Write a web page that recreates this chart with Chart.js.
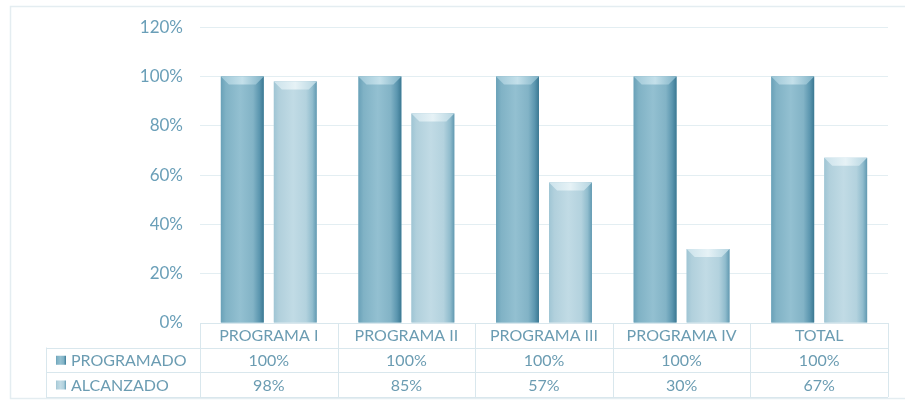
<!DOCTYPE html>
<html>
<head>
<meta charset="utf-8">
<script src="https://cdn.jsdelivr.net/npm/chart.js@4.4.0/dist/chart.umd.min.js"></script>
<style>
  body { margin: 0; background: #ffffff; }
  #wrap { width: 905px; height: 402px; position: relative; }
</style>
</head>
<body>
<div id="wrap"><canvas id="chartCanvas"></canvas></div>
<script>
// chart data
const categories = ['PROGRAMA I', 'PROGRAMA II', 'PROGRAMA III', 'PROGRAMA IV', 'TOTAL'];
const seriesNames = ['PROGRAMADO', 'ALCANZADO'];
const programado = [100, 100, 100, 100, 100];
const alcanzado = [98, 85, 57, 30, 67];
const yTicks = [0, 20, 40, 60, 80, 100, 120];

const FONT = 'Lato, "Open Sans", sans-serif';
const TEXT_COLOR = '#6b9cb2';
const LINE_COLOR = '#d9e7ed';

// gradient stops for the two series (horizontal shading of the bars)
const barStops = [
  [[0, '#69a1b8'], [0.12, '#80b2c5'], [0.45, '#93c0d1'], [0.75, '#82b3c6'], [0.9, '#5b96af'], [1, '#3b7892']],
  [[0, '#9fc5d4'], [0.12, '#b1d0dc'], [0.45, '#c1dbe5'], [0.75, '#b3d2de'], [0.9, '#90bccd'], [1, '#6199b1']]
];
const bevelStops = [
  [[0, '#9cc6d6'], [0.5, '#c4e0ea'], [1, '#7fb2c6']],
  [[0, '#cbe2eb'], [0.5, '#e6f2f6'], [1, '#b5d5e1']]
];

const makeGradient = (ctx, x0, x1, stops) => {
  var g = ctx.createLinearGradient(x0, 0, x1, 0);
  stops.forEach(s => g.addColorStop(s[0], s[1]));
  return g;
};

// light frame around the whole chart
const framePlugin = {
  id: 'frame',
  beforeDraw(chart) {
    const ctx = chart.ctx;
    ctx.save();
    ctx.strokeStyle = '#e4edf1';
    ctx.lineWidth = 1.5;
    ctx.strokeRect(10.5, 6.5, 905, 392);
    ctx.restore();
  }
};

// shading each bar with a gradient and a bevelled top
const bevelPlugin = {
  id: 'bevel',
  afterDatasetsDraw(chart) {
    const ctx = chart.ctx;
    chart.data.datasets.forEach((ds, di) => {
      chart.getDatasetMeta(di).data.forEach(bar => {
        const x0 = bar.x - bar.width / 2;
        const x1 = bar.x + bar.width / 2;
        const b = 8;
        ctx.save();
        ctx.fillStyle = makeGradient(ctx, x0, x1, barStops[di]);
        ctx.fillRect(x0, bar.y, x1 - x0, bar.base - bar.y);
        ctx.beginPath();
        ctx.moveTo(x0, bar.y);
        ctx.lineTo(x1, bar.y);
        ctx.lineTo(x1 - b, bar.y + b);
        ctx.lineTo(x0 + b, bar.y + b);
        ctx.closePath();
        ctx.fillStyle = makeGradient(ctx, x0, x1, bevelStops[di]);
        ctx.fill();
        ctx.restore();
      });
    });
  }
};

// data table under the plot
const tablePlugin = {
  id: 'dataTable',
  afterDraw(chart) {
    const ctx = chart.ctx;
    const area = chart.chartArea;
    const x = chart.scales.x;
    const step = (area.right - area.left) / categories.length;
    const tableLeft = 46;
    const rows = [area.bottom, area.bottom + 24.5, area.bottom + 49, area.bottom + 74];

    ctx.save();
    ctx.strokeStyle = LINE_COLOR;
    ctx.lineWidth = 1;

    // horizontal lines
    ctx.beginPath();
    ctx.moveTo(area.left, rows[0] + 0.5);
    ctx.lineTo(area.right, rows[0] + 0.5);
    for (var r = 1; r < rows.length; r++) {
      ctx.moveTo(tableLeft, Math.round(rows[r]) + 0.5);
      ctx.lineTo(area.right, Math.round(rows[r]) + 0.5);
    }
    // vertical lines
    ctx.moveTo(tableLeft + 0.5, rows[1]);
    ctx.lineTo(tableLeft + 0.5, rows[3]);
    for (var i = 0; i <= categories.length; i++) {
      const vx = Math.round(area.left + i * step) + 0.5;
      ctx.moveTo(vx, rows[0]);
      ctx.lineTo(vx, rows[3]);
    }
    ctx.stroke();

    // cell texts
    ctx.fillStyle = TEXT_COLOR;
    ctx.font = '16px ' + FONT;
    ctx.textAlign = 'center';
    ctx.textBaseline = 'middle';
    const values = [programado, alcanzado];
    categories.forEach((cat, i) => {
      const cx = x.getPixelForValue(i);
      ctx.fillText(cat, cx, (rows[0] + rows[1]) / 2 + 1);
      ctx.fillText(values[0][i] + '%', cx, (rows[1] + rows[2]) / 2 + 1);
      ctx.fillText(values[1][i] + '%', cx, (rows[2] + rows[3]) / 2 + 1);
    });

    // series names with legend keys
    ctx.textAlign = 'left';
    seriesNames.forEach((name, si) => {
      const cy = (rows[si + 1] + rows[si + 2]) / 2;
      ctx.fillStyle = makeGradient(ctx, 56, 66, barStops[si]);
      ctx.fillRect(56, cy - 4, 10, 9);
      ctx.fillStyle = TEXT_COLOR;
      ctx.fillText(name, 71, cy + 1);
    });
    ctx.restore();
  }
};

const data = {
  labels: categories,
  datasets: [{
    label: seriesNames[0],
    data: programado,
    backgroundColor: '#8cbbcd',
    categoryPercentage: 0.77,
    barPercentage: 0.81
  }, {
    label: seriesNames[1],
    data: alcanzado,
    backgroundColor: '#bcd7e2',
    categoryPercentage: 0.77,
    barPercentage: 0.81
  }]
};

const options = {
  responsive: true,
  maintainAspectRatio: false,
  animation: false,
  layout: {
    padding: { left: 10, right: 17, top: 25, bottom: 79 }
  },
  plugins: {
    legend: { display: false },
    tooltip: { enabled: false }
  },
  scales: {
    x: {
      display: true,
      grid: { display: false, drawTicks: false },
      border: { display: false },
      ticks: { display: false },
      afterFit: s => { s.height = 0; }
    },
    y: {
      min: 0,
      max: 120,
      afterFit: s => { s.width = 190; },
      afterBuildTicks: s => { s.ticks = yTicks.map(v => ({ value: v })); },
      grid: { color: '#e3eef2', lineWidth: 1, drawTicks: false },
      border: { display: false },
      ticks: {
        padding: 17,
        color: '#6a9fb8',
        font: { family: FONT, size: 17 },
        callback: v => v + '%'
      }
    }
  }
};

new Chart(document.getElementById('chartCanvas'), {
  type: 'bar',
  data: data,
  options: options,
  plugins: [framePlugin, bevelPlugin, tablePlugin]
});
</script>
</body>
</html>
